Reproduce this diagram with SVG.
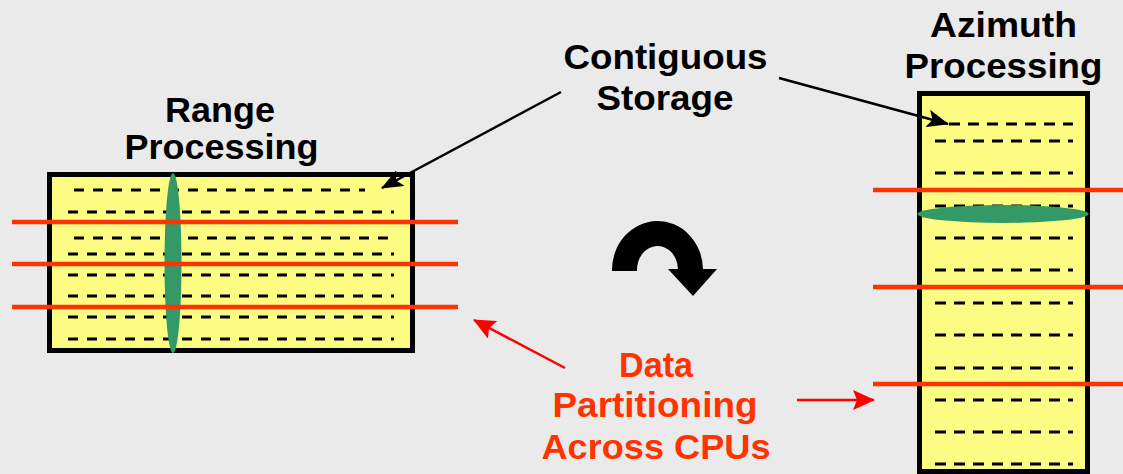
<svg xmlns="http://www.w3.org/2000/svg" width="1123" height="474" viewBox="0 0 1123 474">
<defs>
<style>
.lbl{font-family:"Liberation Sans",Arial,sans-serif;font-weight:bold;font-size:35px;text-anchor:middle}
.blk{fill:#000}
.org{fill:#FF3300}
.box{fill:#FCFC82;stroke:#000;stroke-width:5}
.dl{stroke:#000;stroke-width:3;stroke-dasharray:10 9;fill:none}
.dr{stroke:#000;stroke-width:3;stroke-dasharray:11 8;fill:none}
.part{stroke:#FF3300;stroke-width:4.5;fill:none}
.ell{fill:#339966}
.ab{stroke:#000;stroke-width:2.5;fill:none}
.ar{stroke:#FF0000;stroke-width:2.5;fill:none}
</style>
<marker id="mb" viewBox="0 0 22 18" refX="21" refY="9" markerWidth="22" markerHeight="18" markerUnits="userSpaceOnUse" orient="auto">
<path d="M0,0 L22,9 L0,18 L5,9 Z" fill="#000"/>
</marker>
<marker id="mr" viewBox="0 0 22 20" refX="21" refY="10" markerWidth="22" markerHeight="20" markerUnits="userSpaceOnUse" orient="auto">
<path d="M0,0 L22,10 L0,20 L4,10 Z" fill="#FF0000"/>
</marker>
</defs>
<rect width="1123" height="474" fill="#EAEAEA"/>

<g id="range-node">
<rect class="box" x="49.5" y="174.5" width="363" height="176"/>
<line class="dl" x1="74" y1="190" x2="365" y2="190"/>
<line class="dl" x1="68" y1="212" x2="394" y2="212"/>
<line class="dl" x1="74" y1="238" x2="389" y2="238"/>
<line class="dl" x1="68" y1="254" x2="394" y2="254"/>
<line class="dl" x1="68" y1="275" x2="394" y2="275"/>
<line class="dl" x1="68" y1="296" x2="394" y2="296"/>
<line class="dl" x1="68" y1="317" x2="394" y2="317"/>
<line class="dl" x1="68" y1="339" x2="394" y2="339"/>
<ellipse class="ell" cx="173" cy="263" rx="8.5" ry="90"/>
<line class="part" x1="12" y1="222" x2="458" y2="222"/>
<line class="part" x1="12" y1="264" x2="458" y2="264"/>
<line class="part" x1="12" y1="307" x2="458" y2="307"/>
<text class="lbl blk" x="220" y="122" textLength="110" lengthAdjust="spacingAndGlyphs">Range</text>
<text class="lbl blk" x="221.5" y="159" textLength="194" lengthAdjust="spacingAndGlyphs">Processing</text>
</g>

<g id="azimuth-node">
<rect class="box" x="919.5" y="93.5" width="168" height="378"/>
<line class="dr" x1="949" y1="124" x2="1073" y2="124"/>
<line class="dr" x1="935" y1="141" x2="1073" y2="141"/>
<line class="dr" x1="935" y1="173" x2="1073" y2="173"/>
<line class="dr" x1="935" y1="206" x2="1073" y2="206"/>
<line class="dr" x1="935" y1="238" x2="1073" y2="238"/>
<line class="dr" x1="935" y1="270" x2="1073" y2="270"/>
<line class="dr" x1="935" y1="303" x2="1073" y2="303"/>
<line class="dr" x1="935" y1="335" x2="1073" y2="335"/>
<line class="dr" x1="935" y1="368" x2="1073" y2="368"/>
<line class="dr" x1="935" y1="400" x2="1073" y2="400"/>
<line class="dr" x1="935" y1="432" x2="1073" y2="432"/>
<line class="dr" x1="935" y1="464" x2="1073" y2="464"/>
<ellipse class="ell" cx="1003" cy="214" rx="85.5" ry="9"/>
<line class="part" x1="873" y1="190" x2="1123" y2="190"/>
<line class="part" x1="873" y1="287" x2="1123" y2="287"/>
<line class="part" x1="873" y1="384" x2="1123" y2="384"/>
<text class="lbl blk" x="1003.5" y="37" textLength="147" lengthAdjust="spacingAndGlyphs">Azimuth</text>
<text class="lbl blk" x="1003.5" y="78" textLength="198" lengthAdjust="spacingAndGlyphs">Processing</text>
</g>

<g id="contiguous-label">
<text class="lbl blk" x="665.5" y="69" textLength="204" lengthAdjust="spacingAndGlyphs">Contiguous</text>
<text class="lbl blk" x="665" y="110" textLength="137" lengthAdjust="spacingAndGlyphs">Storage</text>
</g>

<g id="partition-label">
<text class="lbl org" x="656" y="377" textLength="74" lengthAdjust="spacingAndGlyphs">Data</text>
<text class="lbl org" x="655" y="417" textLength="205" lengthAdjust="spacingAndGlyphs">Partitioning</text>
<text class="lbl org" x="656" y="459" textLength="229" lengthAdjust="spacingAndGlyphs">Across CPUs</text>
</g>

<g id="transpose-arrow">
<path d="M612,271 A45.5,49 0 0 1 703,269 L717,269 L693,296 L668,269 L678,269 A20.5,24 0 0 0 637,271 Z" fill="#000"/>
</g>

<g id="connectors">
<line class="ab" x1="561" y1="92" x2="382" y2="188" marker-end="url(#mb)"/>
<line class="ab" x1="779" y1="78" x2="948" y2="124" marker-end="url(#mb)"/>
<line class="ar" x1="565" y1="368" x2="474" y2="320" marker-end="url(#mr)"/>
<line class="ar" x1="797" y1="400" x2="874" y2="400" marker-end="url(#mr)"/>
</g>
</svg>
